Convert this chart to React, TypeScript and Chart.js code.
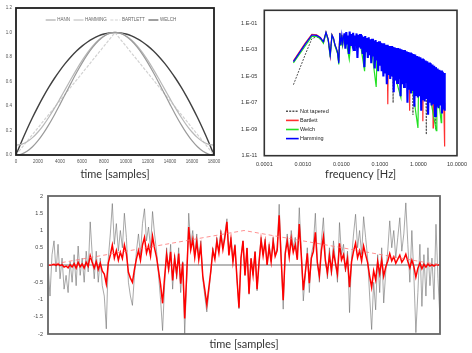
import React, { useEffect, useRef } from "react";
import { Chart, registerables } from "chart.js";
Chart.register(...registerables);

// ---------- Panel 1: window functions ----------
const windowSamples = [0, 500, 1000, 1500, 2000, 2500, 3000, 3500, 4000, 4500, 5000, 5500, 6000, 6500, 7000, 7500, 8000, 8500, 9000, 9500, 10000, 10500, 11000, 11500, 12000, 12500, 13000, 13500, 14000, 14500, 15000, 15500, 16000, 16500, 17000, 17500, 18000];
const hann = [0, 0.0076, 0.0302, 0.067, 0.117, 0.1786, 0.25, 0.329, 0.4132, 0.5, 0.5868, 0.671, 0.75, 0.8214, 0.883, 0.933, 0.9698, 0.9924, 1, 0.9924, 0.9698, 0.933, 0.883, 0.8214, 0.75, 0.671, 0.5868, 0.5, 0.4132, 0.329, 0.25, 0.1786, 0.117, 0.067, 0.0302, 0.0076, 0];
const hamming = [0.08, 0.087, 0.1077, 0.1416, 0.1876, 0.2443, 0.31, 0.3827, 0.4601, 0.54, 0.6199, 0.6973, 0.77, 0.8357, 0.8924, 0.9384, 0.9723, 0.993, 1, 0.993, 0.9723, 0.9384, 0.8924, 0.8357, 0.77, 0.6973, 0.6199, 0.54, 0.4601, 0.3827, 0.31, 0.2443, 0.1876, 0.1416, 0.1077, 0.087, 0.08];
const bartlett = [0, 0.056, 0.111, 0.167, 0.222, 0.278, 0.333, 0.389, 0.444, 0.5, 0.556, 0.611, 0.667, 0.722, 0.778, 0.833, 0.889, 0.944, 1, 0.944, 0.889, 0.833, 0.778, 0.722, 0.667, 0.611, 0.556, 0.5, 0.444, 0.389, 0.333, 0.278, 0.222, 0.167, 0.111, 0.056, 0];
const welch = [0, 0.108, 0.2099, 0.3056, 0.3951, 0.4784, 0.5556, 0.6265, 0.6914, 0.75, 0.8025, 0.8488, 0.8889, 0.9228, 0.9506, 0.9722, 0.9877, 0.9969, 1, 0.9969, 0.9877, 0.9722, 0.9506, 0.9228, 0.8889, 0.8488, 0.8025, 0.75, 0.6914, 0.6265, 0.5556, 0.4784, 0.3951, 0.3056, 0.2099, 0.108, 0];

// ---------- Panel 2: spectra (log10 of power) ----------
const hammingFreqs = [
  0.00057, 0.00114, 0.00171, 0.00228, 0.00285, 0.00342, 0.00399, 0.00456, 0.00513, 0.0057,
  0.00627, 0.00684, 0.00741, 0.00798, 0.00855, 0.00912, 0.00969, 0.01026, 0.01083, 0.0114,
  0.012, 0.0127, 0.0134, 0.0141, 0.0148, 0.0156, 0.0164, 0.0173, 0.0182, 0.0192,
  0.0202, 0.0213, 0.0224, 0.0236, 0.0248, 0.0261, 0.0275, 0.029, 0.0305, 0.0321,
  0.0338, 0.0356, 0.0375, 0.0395, 0.0416, 0.0438, 0.0461, 0.0485, 0.0511, 0.0538,
  0.0566, 0.0596, 0.0628, 0.0661, 0.0696, 0.0733, 0.0772, 0.0813, 0.0856, 0.0901,
  0.0949, 0.0999, 0.105, 0.111, 0.117, 0.123, 0.129, 0.136, 0.143, 0.151,
  0.159, 0.167, 0.176, 0.185, 0.195, 0.205, 0.216, 0.228, 0.24, 0.252,
  0.266, 0.28, 0.294, 0.31, 0.326, 0.343, 0.362, 0.381, 0.401, 0.422,
  0.444, 0.468, 0.492, 0.518, 0.546, 0.575, 0.605, 0.637, 0.671, 0.706,
  0.744, 0.783, 0.824, 0.868, 0.914, 0.962, 1.01, 1.07, 1.12, 1.18,
  1.24, 1.31, 1.38, 1.45, 1.53, 1.61, 1.69, 1.78, 1.88, 1.98,
  2.08, 2.19, 2.31, 2.43, 2.56, 2.69, 2.83, 2.98, 3.14, 3.31,
  3.48, 3.67, 3.86, 4.06, 4.28, 4.5, 4.74, 4.8
];
const hammingLogPower = [
  -3.88, -2.58, -1.87, -1.9, -2.08, -2.38, -1.67, -2.2, -3.4, -1.87,
  -2.13, -2.63, -2.88, -3.2, -4.0, -1.72, -2.63, -1.87, -2.5, -2.0,
  -1.75, -2.9, -1.65, -2.5, -1.9, -3.3, -1.6, -2.7, -1.8, -2.4,
  -1.7, -3.0, -1.9, -2.6, -1.75, -3.6, -1.85, -2.8, -1.8, -2.9,
  -1.9, -3.3, -2.0, -4.3, -1.95, -3.1, -2.1, -3.6, -2.05, -3.4,
  -2.2, -4.0, -2.15, -3.5, -2.3, -4.4, -2.25, -3.8, -2.4, -4.6,
  -2.35, -4.2, -2.45, -4.6, -2.5, -5.0, -2.5, -4.7, -2.6, -5.6,
  -2.6, -4.9, -2.7, -5.2, -2.7, -5.0, -2.75, -6.2, -2.8, -5.3,
  -2.85, -5.5, -2.85, -5.2, -2.9, -6.5, -2.95, -5.6, -3.0, -5.8,
  -3.0, -5.5, -3.1, -7.0, -3.15, -6.0, -3.2, -6.3, -3.25, -6.1,
  -3.3, -7.3, -3.35, -6.4, -3.45, -6.6, -3.5, -6.5, -3.55, -7.6,
  -3.65, -6.8, -3.7, -6.9, -3.8, -6.7, -3.85, -7.9, -3.95, -7.0,
  -4.0, -7.2, -4.1, -7.1, -4.2, -8.0, -4.3, -7.3, -4.4, -7.4,
  -4.5, -7.2, -4.55, -7.8, -4.65, -7.5, -4.75, -7.6
];
const welchFreqs = [
  0.00057, 0.00114, 0.00171, 0.00228, 0.00285, 0.00342, 0.00399, 0.00456, 0.00513, 0.0057,
  0.00627, 0.00684, 0.00741, 0.00798, 0.00855, 0.00912, 0.00969, 0.01026, 0.01083, 0.0114,
  0.013, 0.016, 0.018, 0.024, 0.03, 0.04, 0.043, 0.06, 0.08, 0.085,
  0.13, 0.2, 0.35, 0.37, 0.6, 0.97, 1.02, 1.6, 2.9, 3.0, 3.9, 4.0, 4.8
];
const welchLogPower = [
  -3.98, -2.72, -1.97, -1.98, -2.15, -2.5, -1.7, -2.3, -3.55, -1.9,
  -2.2, -2.7, -3.0, -3.3, -4.1, -1.75, -2.7, -1.9, -2.6, -2.05,
  -2.2, -3.7, -2.0, -2.5, -2.2, -4.6, -2.4, -2.8, -5.8, -2.8,
  -3.2, -4.0, -6.6, -3.5, -4.5, -8.9, -4.5, -5.0, -9.1, -5.5, -8.5, -5.8, -5.8
];
const bartlettFreqs = [
  0.00057, 0.00114, 0.00171, 0.00228, 0.00285, 0.00342, 0.00399, 0.00456, 0.00513, 0.0057,
  0.00627, 0.00684, 0.00741, 0.00798, 0.00855, 0.00912, 0.00969, 0.01026, 0.01083, 0.0114,
  0.013, 0.02, 0.03, 0.05, 0.1, 0.155, 0.16, 0.165, 0.3, 0.57,
  0.59, 0.61, 1.28, 1.3, 1.33, 2.35, 2.4, 2.45, 4.4, 4.6, 4.75, 4.8
];
const bartlettLogPower = [
  -3.82, -2.5, -1.82, -1.86, -2.05, -2.4, -1.65, -2.2, -3.45, -1.85,
  -2.15, -2.65, -2.9, -3.25, -3.9, -1.7, -2.6, -1.85, -2.55, -2.0,
  -2.3, -2.1, -2.4, -2.7, -3.2, -3.6, -7.1, -3.6, -4.0, -4.4,
  -7.6, -4.4, -5.0, -8.4, -5.0, -5.5, -8.9, -5.5, -6.0, -8.0, -10.3, -7.0
];
const rawFreqs = [
  0.00057, 0.00114, 0.00171, 0.00228, 0.00285, 0.00342, 0.00399, 0.00456, 0.00513, 0.0057,
  0.00627, 0.00684, 0.00741, 0.00798, 0.00855, 0.00912, 0.00969, 0.01026, 0.01083, 0.0114,
  0.014, 0.025, 0.045, 0.1, 0.15, 0.215, 0.22, 0.225, 0.4, 0.7,
  0.72, 0.74, 1.55, 1.6, 1.65, 2.75, 2.8, 2.85, 4.0, 4.8
];
const rawLogPower = [
  -5.63, -3.39, -2.15, -2.0, -2.2, -2.45, -1.75, -2.3, -3.3, -1.95,
  -2.2, -2.6, -2.95, -3.1, -3.8, -1.8, -2.65, -1.9, -2.45, -2.05,
  -2.3, -2.4, -2.6, -3.0, -3.5, -3.8, -7.0, -3.8, -4.2, -4.6,
  -7.9, -4.6, -5.2, -9.4, -5.2, -5.6, -9.0, -5.6, -6.0, -6.2
];
const freqTicks = [0.0001, 0.001, 0.01, 0.1, 1, 10];
const powerTicks = [-11, -9, -7, -5, -3, -1];

// ---------- Panel 3: time series ----------
const originalSignal = [
  0.0, -0.9, 0.3, 0.7, -0.2, 0.6, -0.4, 0.2, -0.7, -0.3,
  -0.8, 0.1, -0.5, 0.3, -0.6, 0.55, -0.3, 0.2, -0.5, 0.4,
  -0.2, 1.25, 0.3, -0.4, 0.4, -0.5, 0.2, -0.6, -0.9, -1.85,
  0.2, 0.9, 1.78, 0.6, 1.2, 0.4, 1.0, 0.5, 1.5, 0.8,
  -0.5, -0.9, -1.17, -0.3, 0.4, 0.9, 0.3, 1.2, 1.63, 0.7,
  1.1, 0.5, 1.55, 0.9, 0.4, -0.3, -1.0, -1.9, -0.6, 0.5,
  -0.2, 0.6, -0.7, 0.3, -0.4, 0.5, -0.8, 0.1, -2.0, -0.4,
  1.5, 0.6, 1.0, 0.3, 0.9, 0.2, 0.7, -0.4, -0.9, -1.36,
  -0.8, -0.2, 0.5, 0.2, 0.8, 0.4, 1.0, 0.5, 0.9, 1.34,
  0.3, 0.8, 0.1, 0.6, -0.4, -1.27, 0.2, 0.7, -0.3, 0.5,
  -0.85, 0.2, -0.3, 0.4, -0.75, 0.1, 0.8, 0.3, 0.75, 0.0,
  0.6, 0.1, 0.8, 0.3, 0.5, 1.76, 0.2, -1.28, 0.4, 0.9,
  0.3, 1.0, 0.5, 0.8, 0.2, 1.66, 0.4, -1.04, -0.3, 0.5,
  -0.8, 0.3, 0.6, 1.5, 0.1, -0.5, 0.7, 1.37, 0.2, -0.4,
  0.5, -0.3, 0.7, 0.1, -0.5, 1.23, 0.3, 0.6, -0.2, 0.4,
  -1.38, 0.2, 0.9, 1.47, 0.5, 1.0, 0.3, 1.4, 0.8, 0.2,
  -0.9, -1.87, -0.5, -1.3, 0.3, -0.8, 0.5, -1.1, -0.2, 0.4,
  1.28, 0.5, 1.0, 0.2, 0.8, 1.37, 0.4, 0.9, 1.8, 0.6,
  -0.5, 1.0, -0.3, -1.96, -0.8, 0.6, -1.2, 0.3, -0.9, 0.5,
  -0.6, 0.2, -1.0, 1.18, -0.4, -1.57
];
const taperedSignal = [
  0, -0.01, 0.01, 0.02, -0.01, 0.03, -0.02, 0.01, -0.06, -0.03,
  -0.08, 0.01, -0.06, 0.04, -0.09, 0.08, -0.05, 0.03, -0.09, 0.08,
  -0.04, 0.27, 0.07, -0.09, 0.1, -0.13, 0.05, -0.17, -0.26, -0.55,
  0.06, 0.29, 0.58, 0.2, 0.42, 0.14, 0.37, 0.19, 0.58, 0.32,
  -0.21, -0.38, -0.5, -0.13, 0.18, 0.42, 0.14, 0.58, 0.8, 0.35,
  0.56, 0.26, 0.83, 0.49, 0.22, -0.17, -0.57, -1.11, -0.36, 0.3,
  -0.12, 0.38, -0.45, 0.19, -0.26, 0.33, -0.54, 0.07, -1.55, -0.28,
  1.1, 0.44, 0.74, 0.22, 0.68, 0.15, 0.55, -0.32, -0.72, -1.15,
  -0.66, -0.17, 0.42, 0.17, 0.69, 0.35, 0.88, 0.45, 0.81, 1.25,
  0.28, 0.75, 0.09, 0.57, -0.39, -1.24, 0.2, 0.7, -0.3, 0.49,
  -0.83, 0.19, -0.29, 0.38, -0.7, 0.09, 0.73, 0.27, 0.67, 0.0,
  0.52, 0.09, 0.68, 0.25, 0.42, 1.44, 0.16, -1.02, 0.32, 0.7,
  0.23, 0.76, 0.37, 0.59, 0.15, 1.19, 0.28, -0.73, -0.21, 0.34,
  -0.53, 0.2, 0.39, 0.95, 0.06, -0.31, 0.42, 0.82, 0.12, -0.23,
  0.28, -0.17, 0.38, 0.05, -0.26, 0.63, 0.15, 0.3, -0.1, 0.19,
  -0.64, 0.09, 0.4, 0.63, 0.21, 0.41, 0.12, 0.55, 0.3, 0.07,
  -0.32, -0.65, -0.17, -0.43, 0.1, -0.25, 0.15, -0.32, -0.06, 0.11,
  0.33, 0.12, 0.24, 0.05, 0.17, 0.28, 0.08, 0.17, 0.31, 0.1,
  -0.08, 0.14, -0.04, -0.35, -0.09, 0.06, -0.11, 0.02, -0.06, 0.03,
  -0.03, 0.01, -0.03, 0.02, 0, 0
];
const taperX = [0, 97.5, 195];
const taperY = [0, 1, 0];
const zeroX = [0, 195];
const zeroY = [0, 0];

const TICK_FONT = "'Liberation Sans', Arial, sans-serif";
const TITLE_FONT = "Lato, 'Open Sans', sans-serif";

const pts = (xs: number[], ys: number[]) => xs.map((x, i) => ({ x, y: ys[i] }));

const framePlugin = {
  id: "frame",
  afterDatasetsDraw(chart: any, _args: any, opts: any) {
    const { ctx, chartArea: a } = chart;
    ctx.save();
    ctx.strokeStyle = opts.color;
    ctx.lineWidth = opts.width;
    ctx.strokeRect(a.left, a.top, a.right - a.left, a.bottom - a.top);
    ctx.restore();
  },
};

const lineLegendPlugin = {
  id: "lineLegend",
  afterDraw(chart: any, _args: any, opts: any) {
    if (!opts || !opts.order) return;
    const { ctx, chartArea: a } = chart;
    ctx.save();
    ctx.font = `${opts.fontSize}px ${TICK_FONT}`;
    ctx.textBaseline = "middle";
    ctx.fillStyle = opts.textColor;
    let x = a.left + opts.dx;
    let y = a.top + opts.dy;
    for (const idx of opts.order) {
      const ds = chart.data.datasets[idx];
      ctx.strokeStyle = ds.borderColor;
      ctx.lineWidth = opts.lineWidth;
      ctx.setLineDash(ds.borderDash || []);
      ctx.beginPath();
      ctx.moveTo(x, y);
      ctx.lineTo(x + opts.lineLength, y);
      ctx.stroke();
      ctx.setLineDash([]);
      ctx.fillText(ds.label, x + opts.lineLength + opts.textGap, y);
      if (opts.direction === "row") {
        x += opts.lineLength + opts.textGap + ctx.measureText(ds.label).width + opts.itemGap;
      } else {
        y += opts.rowHeight;
      }
    }
    ctx.restore();
  },
};

function ChartCanvas({ left, top, width, height, make }: any) {
  const ref = useRef<HTMLCanvasElement>(null);
  useEffect(() => {
    const chart = new Chart(ref.current as HTMLCanvasElement, make());
    return () => chart.destroy();
  }, []);
  return (
    <canvas
      ref={ref}
      width={width}
      height={height}
      style={{ position: "absolute", left, top, width, height }}
    />
  );
}

const noGrid = { display: false, drawTicks: false };

function windowConfig(): any {
  const line = (label: string, ys: number[], color: string, w: number, dash: number[] | undefined, tension: number) => ({
    label,
    data: pts(windowSamples, ys),
    borderColor: color,
    borderWidth: w,
    borderDash: dash,
    tension,
    pointRadius: 0,
    fill: false,
  });
  return {
    type: "line",
    data: {
      datasets: [
        line("HANN", hann, "#9a9a9a", 1.2, undefined, 0.4),
        line("HAMMING", hamming, "#b8b8b8", 1.2, undefined, 0.4),
        line("BARTLETT", bartlett, "#d2d2d2", 1.2, [3, 1.5], 0),
        line("WELCH", welch, "#404040", 1.4, undefined, 0.4),
      ],
    },
    plugins: [framePlugin, lineLegendPlugin],
    options: {
      responsive: false,
      animation: false,
      layout: { padding: { left: 0, top: 8, right: 22, bottom: 0 } },
      plugins: {
        legend: { display: false },
        tooltip: { enabled: false },
        frame: { color: "#1e1e1e", width: 1.8 },
        lineLegend: {
          order: [0, 1, 2, 3], direction: "row", dx: 29.7, dy: 12, fontSize: 4.5,
          textColor: "#666", lineLength: 10, textGap: 1.5, itemGap: 3.6, lineWidth: 1, rowHeight: 0,
        },
      },
      scales: {
        x: {
          type: "linear", min: 0, max: 18000,
          grid: noGrid, border: { display: false },
          ticks: { stepSize: 2000, autoSkip: false, maxRotation: 0, padding: 4, color: "#555", font: { size: 4.5, family: TICK_FONT }, callback: (v: any) => String(Number(v)) },
          title: { display: true, text: "time [samples]", color: "#333", font: { size: 11, family: TITLE_FONT }, padding: { top: 0, bottom: 4.4 } },
          afterFit: (s: any) => { s.height = 30; },
        },
        y: {
          type: "linear", min: 0, max: 1.2,
          grid: noGrid, border: { display: false },
          ticks: { stepSize: 0.2, padding: 4, color: "#555", font: { size: 4.5, family: TICK_FONT }, callback: (v: any) => Number(v).toFixed(1) },
          afterFit: (s: any) => { s.width = 16; },
        },
      },
    },
  };
}

function spectrumConfig(): any {
  const line = (label: string, xs: number[], ys: number[], color: string, w: number, dash?: number[]) => ({
    label,
    data: pts(xs, ys),
    borderColor: color,
    borderWidth: w,
    borderDash: dash,
    pointRadius: 0,
    tension: 0,
    fill: false,
  });
  const blue: any = line("Hamming", hammingFreqs, hammingLogPower, "#0000ff", 1.2);
  // thinner strokes where the spectrum is sparse, thicker where it is dense
  blue.segment = { borderWidth: (c: any) => (c.p0.parsed.x < 0.012 ? 1.2 : 2.1) };
  return {
    type: "line",
    data: {
      datasets: [
        blue,
        line("Welch", welchFreqs, welchLogPower, "#22e022", 1.2),
        line("Bartlett", bartlettFreqs, bartlettLogPower, "#ff3030", 1.2),
        line("Not tapered", rawFreqs, rawLogPower, "#555555", 1, [2, 1.2]),
      ],
    },
    plugins: [framePlugin, lineLegendPlugin],
    options: {
      responsive: false,
      animation: false,
      layout: { padding: { left: 0, top: 7.3, right: 15, bottom: 0 } },
      plugins: {
        legend: { display: false },
        tooltip: { enabled: false },
        frame: { color: "#333", width: 1.6 },
        lineLegend: {
          order: [3, 2, 1, 0], direction: "column", dx: 21.7, dy: 101, fontSize: 5.5,
          textColor: "#222", lineLength: 12.7, textGap: 1.3, itemGap: 0, lineWidth: 1.6, rowHeight: 9.1,
        },
      },
      scales: {
        x: {
          type: "logarithmic", min: 0.0001, max: 10,
          grid: noGrid, border: { display: false },
          afterBuildTicks: (s: any) => { s.ticks = freqTicks.map((v) => ({ value: v })); },
          ticks: { autoSkip: false, maxRotation: 0, padding: 5, color: "#333", font: { size: 5.5, family: TICK_FONT }, callback: (v: any) => Number(v).toFixed(4) },
          title: { display: true, text: "frequency [Hz]", color: "#333", font: { size: 11, family: TITLE_FONT }, padding: { top: 0, bottom: 4.4 } },
          afterFit: (s: any) => { s.height = 29.3; },
        },
        y: {
          type: "linear", min: -11, max: 0,
          grid: noGrid, border: { display: false },
          afterBuildTicks: (s: any) => { s.ticks = powerTicks.map((v) => ({ value: v })); },
          ticks: {
            padding: 7, color: "#333", font: { size: 5.5, family: TICK_FONT },
            callback: (v: any) => "1.E" + (v < 0 ? "-" : "+") + String(Math.abs(v)).padStart(2, "0"),
          },
          afterFit: (s: any) => { s.width = 28.3; },
        },
      },
    },
  };
}

function signalConfig(): any {
  const idx = originalSignal.map((_, i) => i);
  return {
    type: "line",
    data: {
      datasets: [
        { label: "taper", data: pts(taperX, taperY), borderColor: "rgba(255,110,110,0.75)", borderWidth: 1, borderDash: [4, 3], pointRadius: 0, tension: 0 },
        { label: "tapered", data: pts(idx, taperedSignal), borderColor: "#ff0000", borderWidth: 1.5, pointRadius: 0, tension: 0 },
        { label: "original", data: pts(idx, originalSignal), borderColor: "rgba(110,110,110,0.6)", borderWidth: 1, pointRadius: 0, tension: 0 },
        { label: "zero", data: pts(zeroX, zeroY), borderColor: "#a0a0a0", borderWidth: 1.5, pointRadius: 0, tension: 0 },
      ],
    },
    plugins: [framePlugin],
    options: {
      responsive: false,
      animation: false,
      layout: { padding: { left: 0, top: 11, right: 32, bottom: 0 } },
      plugins: {
        legend: { display: false },
        tooltip: { enabled: false },
        frame: { color: "#666", width: 1.8 },
      },
      scales: {
        x: {
          type: "linear", min: 0, max: 195,
          grid: noGrid, border: { display: false },
          ticks: { display: false },
          title: { display: true, text: "time [samples]", color: "#333", font: { size: 11, family: TITLE_FONT }, padding: { top: 0, bottom: 2.4 } },
          afterFit: (s: any) => { s.height = 19; },
        },
        y: {
          type: "linear", min: -2, max: 2,
          grid: noGrid, border: { display: false },
          ticks: { stepSize: 0.5, padding: 5, color: "#444", font: { size: 5.5, family: TICK_FONT }, callback: (v: any) => String(Number(v)) },
          afterFit: (s: any) => { s.width = 48; },
        },
      },
    },
  };
}

export default function App() {
  return (
    <div style={{ position: "fixed", left: 0, top: 0, width: 472, height: 353, background: "#fff", overflow: "hidden" }}>
      <ChartCanvas left={0} top={0} width={236} height={185} make={windowConfig} />
      <ChartCanvas left={236} top={0} width={236} height={185} make={spectrumConfig} />
      <ChartCanvas left={0} top={185} width={472} height={168} make={signalConfig} />
    </div>
  );
}
